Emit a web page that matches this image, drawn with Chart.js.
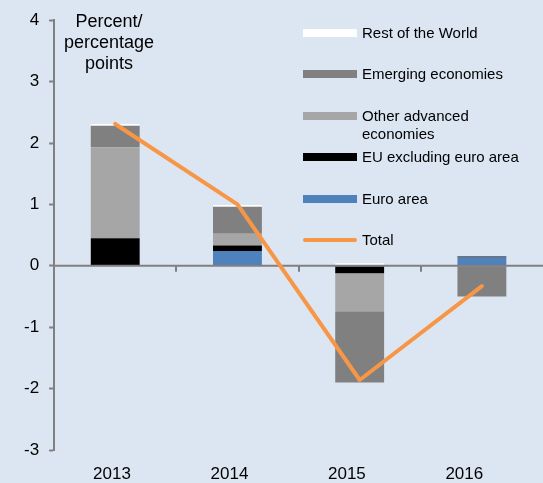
<!DOCTYPE html>
<html>
<head>
<meta charset="utf-8">
<script src="https://cdn.jsdelivr.net/npm/chart.js@4"></script>
<style>
  html, body { margin: 0; padding: 0; background: #DCE6F2; }
  #wrap { position: relative; width: 543px; height: 483px; background: #DCE6F2; overflow: hidden; font-family: 'Liberation Sans', Arial, sans-serif; }
  canvas { position: absolute; left: 0; top: 0; }
  .unit { position: absolute; left: 49px; top: 11px; width: 120px; text-align: center; font-size: 18px; line-height: 21px; color: #000; }
  .lg { position: absolute; left: 303px; font-size: 15px; line-height: 18px; color: #000; }
  .lg .sw { position: absolute; left: 0; width: 54px; height: 8px; top: 5px; }
  .lg .tx { position: absolute; left: 59px; top: 0; white-space: nowrap; }
</style>
</head>
<body>
<div id="wrap">
  <canvas id="c" width="543" height="483"></canvas>
  <div class="unit">Percent/<br>percentage<br>points</div>
  <div id="legend"></div>
</div>
<script>
const categories = ['2013', '2014', '2015', '2016'];
const euroArea   = [0, 0.24, 0, 0.135];
const euExcl     = [0.45, 0.09, -0.12, 0.015];
const otherAdv   = [1.48, 0.19, -0.62, 0];
const emerging   = [0.35, 0.44, -1.16, -0.5];
const restWorld  = [0.03, 0.03, 0.04, 0];
const total      = [2.31, 1.0, -1.86, -0.33];
const yTicks     = [-3, -2, -1, 0, 1, 2, 3, 4];

const seriesNames = ['Rest of the World', 'Emerging economies', 'Other advanced\neconomies', 'EU excluding euro area', 'Euro area', 'Total'];
const colors = { euro: '#4F81BD', eu: '#000000', other: '#A6A6A6', emerging: '#808080', rest: '#FFFFFF', total: '#F79646' };

// HTML legend
const legendItems = [
  { name: seriesNames[0], color: colors.rest, y: 33 },
  { name: seriesNames[1], color: colors.emerging, y: 74 },
  { name: seriesNames[2], color: colors.other, y: 116 },
  { name: seriesNames[3], color: colors.eu, y: 157 },
  { name: seriesNames[4], color: colors.euro, y: 199 },
  { name: seriesNames[5], color: colors.total, y: 240, line: true }
];
const lg = document.getElementById('legend');
legendItems.forEach(it => {
  const d = document.createElement('div');
  d.className = 'lg';
  d.style.top = (it.y - 9) + 'px';
  const sw = document.createElement('div');
  sw.className = 'sw';
  sw.style.background = it.color;
  if (it.line) { sw.style.height = '4px'; sw.style.top = '7px'; sw.style.borderRadius = '2px'; }
  const tx = document.createElement('div');
  tx.className = 'tx';
  tx.innerHTML = it.name.replace('\n', '<br>');
  d.appendChild(sw); d.appendChild(tx);
  lg.appendChild(d);
});

const zeroLinePlugin = {
  id: 'zeroLine',
  beforeDatasetDraw(chart, args) {
    if (args.index !== 5) return;
    const ctx = chart.ctx, y = chart.scales.y, x = chart.scales.x, a = chart.chartArea;
    const py = y.getPixelForValue(0);
    ctx.save();
    ctx.strokeStyle = '#808080';
    ctx.lineWidth = 2;
    ctx.beginPath();
    ctx.moveTo(a.left, py); ctx.lineTo(a.right, py);
    for (let i = 0; i < categories.length - 1; i++) {
      const bx = Math.round((x.getPixelForValue(i) + x.getPixelForValue(i + 1)) / 2);
      ctx.moveTo(bx, py); ctx.lineTo(bx, py + 6);
    }
    ctx.stroke();
    ctx.restore();
  }
};

const font = { family: "'Liberation Sans', Arial, sans-serif", size: 17 };

new Chart(document.getElementById('c'), {
  data: {
    labels: categories,
    datasets: [
      { type: 'bar', label: 'Euro area', data: euroArea, backgroundColor: colors.euro, stack: 's', order: 1 },
      { type: 'bar', label: 'EU excluding euro area', data: euExcl, backgroundColor: colors.eu, stack: 's', order: 1 },
      { type: 'bar', label: 'Other advanced economies', data: otherAdv, backgroundColor: colors.other, stack: 's', order: 1 },
      { type: 'bar', label: 'Emerging economies', data: emerging, backgroundColor: colors.emerging, stack: 's', order: 1 },
      { type: 'bar', label: 'Rest of the World', data: restWorld, backgroundColor: colors.rest, stack: 's', order: 1 },
      { type: 'line', label: 'Total', data: total, borderColor: colors.total, borderWidth: 4, pointRadius: 0, tension: 0,
        borderCapStyle: 'round', borderJoinStyle: 'round', stack: 'line', order: 0, fill: false }
    ]
  },
  options: {
    responsive: false,
    animation: false,
    layout: { padding: { left: 14, right: 0, top: 12, bottom: 0 } },
    datasets: { bar: { categoryPercentage: 0.4, barPercentage: 1.0 } },
    plugins: { legend: { display: false }, tooltip: { enabled: false } },
    scales: {
      x: { type: 'category', display: false, stacked: true, offset: true },
      xl: {
        type: 'linear', position: 'bottom', min: -0.493, max: 3.67,
        afterBuildTicks: s => { s.ticks = categories.map((_, i) => ({ value: i })); },
        afterFit: s => { s.height = 33; },
        grid: { display: false }, border: { display: false },
        ticks: { font, color: '#000', padding: 6, callback: v => categories[v] ?? '', maxRotation: 0, autoSkip: false }
      },
      y: {
        stacked: true, min: -3, max: 4,
        afterBuildTicks: s => { s.ticks = yTicks.map(v => ({ value: v })); },
        grid: { drawOnChartArea: false, tickLength: 5, tickColor: '#808080', tickWidth: 2 },
        border: { color: '#808080', width: 2 },
        ticks: { font, color: '#000', padding: 10 }
      }
    }
  },
  plugins: [zeroLinePlugin]
});
</script>
</body>
</html>
